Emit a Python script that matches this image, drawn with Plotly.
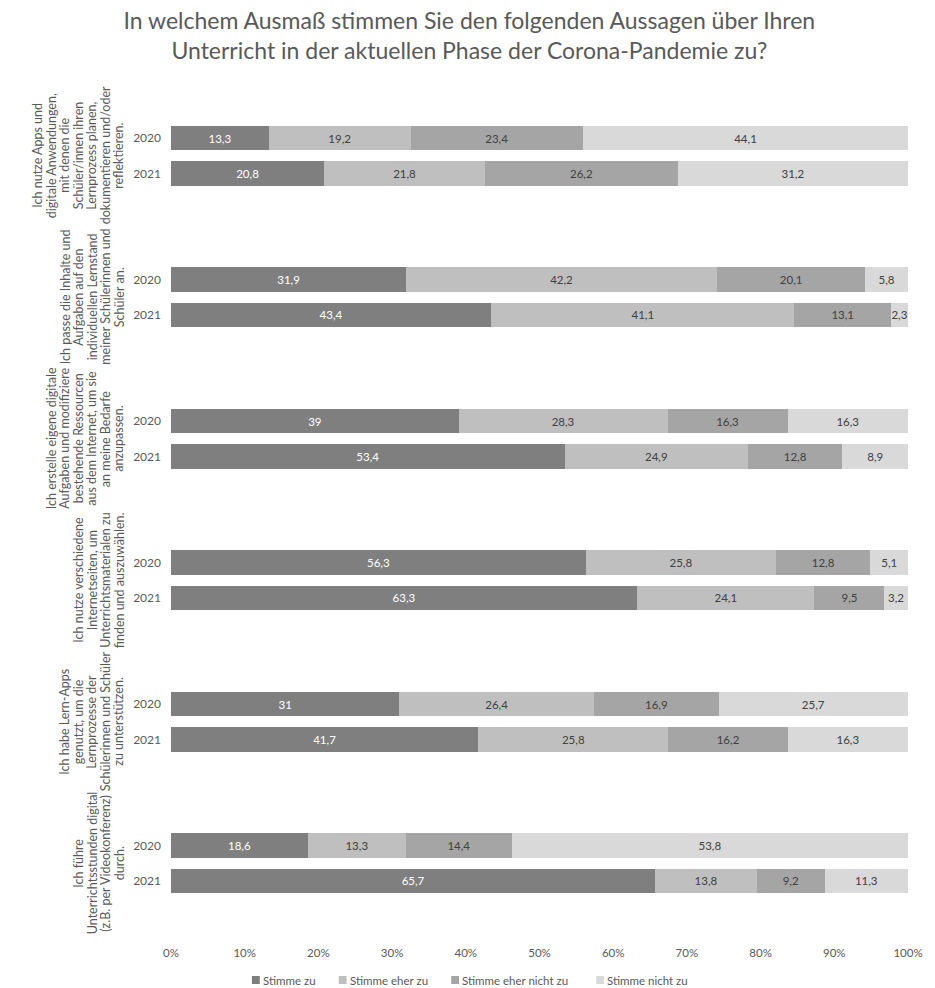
import plotly.graph_objects as go

# Survey statements (top to bottom), one list of text lines per statement
statements = [
    ["Ich nutze Apps und", "digitale Anwendungen,", "mit denen die", "Schüler/innen ihren",
     "Lernprozess planen,", "dokumentieren und/oder", "reflektieren."],
    ["Ich passe die Inhalte und", "Aufgaben auf den", "individuellen Lernstand",
     "meiner Schülerinnen und", "Schüler an."],
    ["Ich erstelle eigene digitale", "Aufgaben und modifiziere", "bestehende Ressourcen",
     "aus dem Internet, um sie", "an meine Bedarfe", "anzupassen."],
    ["Ich nutze verschiedene", "Internetseiten, um", "Unterrichtsmaterialen zu",
     "finden und auszuwählen."],
    ["Ich habe Lern-Apps", "genutzt, um die", "Lernprozesse der",
     "Schülerinnen und Schüler", "zu unterstützen."],
    ["Ich führe", "Unterrichtsstunden digital", "(z.B. per Videokonferenz)", "durch."],
]
years = ["2020", "2021"]

answers = ["Stimme zu", "Stimme eher zu", "Stimme eher nicht zu", "Stimme nicht zu"]

# Shares in percent, one list per answer, ordered statement by statement (2020, 2021)
stimme_zu = [13.3, 20.8, 31.9, 43.4, 39, 53.4, 56.3, 63.3, 31, 41.7, 18.6, 65.7]
stimme_eher_zu = [19.2, 21.8, 42.2, 41.1, 28.3, 24.9, 25.8, 24.1, 26.4, 25.8, 13.3, 13.8]
stimme_eher_nicht_zu = [23.4, 26.2, 20.1, 13.1, 16.3, 12.8, 12.8, 9.5, 16.9, 16.2, 14.4, 9.2]
stimme_nicht_zu = [44.1, 31.2, 5.8, 2.3, 16.3, 8.9, 5.1, 3.2, 25.7, 16.3, 53.8, 11.3]

series = [stimme_zu, stimme_eher_zu, stimme_eher_nicht_zu, stimme_nicht_zu]
colors = ["#7f7f7f", "#bfbfbf", "#a5a5a5", "#d9d9d9"]
text_colors = ["#ffffff", "#404040", "#404040", "#404040"]

x_ticks = list(range(0, 101, 10))

FONT = "Lato, Carlito, 'Open Sans', sans-serif"
GREY = "#595959"

# Figure geometry (pixels)
W, H = 935, 988
M_L, M_R, M_T, M_B = 171, 17, 85, 54
PW, PH = W - M_L - M_R, H - M_T - M_B


def px_to_paper(px, py):
    return (px - M_L) / PW, (H - M_B - py) / PH


# Bar slots: each statement block takes 4 units, the two year bars sit in its middle
positions = []
tick_text = []
for g in range(len(statements)):
    for j, yr in enumerate(years):
        positions.append(4 * g + j)
        tick_text.append(yr)


def fmt(v):
    return str(v).replace(".", ",")


fig = go.Figure()
for name, vals, col, tcol in zip(answers, series, colors, text_colors):
    fig.add_trace(go.Bar(
        name=name,
        orientation="h",
        x=vals,
        y=positions,
        width=0.70,
        marker=dict(color=col, line=dict(width=0)),
        text=[fmt(v) for v in vals],
        textposition="inside",
        insidetextanchor="middle",
        textangle=0,
        textfont=dict(family=FONT, size=11.5, color=tcol),
        constraintext="none",
        showlegend=False,
    ))

# Rotated statement labels left of the year ticks, one annotation per text line
LINE_STEP = 13.5
LAST_LINE_X = 119
for g, lines in enumerate(statements):
    n = len(lines)
    for i, line in enumerate(lines):
        cx = LAST_LINE_X - (n - 1 - i) * LINE_STEP
        fig.add_annotation(
            text=line,
            xref="paper", yref="y",
            x=0, y=4 * g + 0.5,
            xanchor="center", yanchor="middle",
            xshift=cx - M_L,
            textangle=-90,
            showarrow=False,
            font=dict(family=FONT, size=12.5, color=GREY),
        )

# Legend row: small colour squares followed by the answer text
legend_x = [253, 341, 455, 602]
legend_y = 980
for name, col, lx in zip(answers, colors, legend_x):
    x0, y0 = px_to_paper(lx, legend_y + 4)
    x1, y1 = px_to_paper(lx + 8, legend_y - 4)
    fig.add_shape(type="rect", xref="paper", yref="paper",
                  x0=x0, y0=y0, x1=x1, y1=y1,
                  fillcolor=col, line=dict(width=0))
    tx, ty = px_to_paper(lx + 9, legend_y)
    fig.add_annotation(text=name, xref="paper", yref="paper",
                       x=tx, y=ty, xanchor="left", yanchor="middle",
                       showarrow=False,
                       font=dict(family=FONT, size=11.5, color=GREY))

fig.update_layout(
    width=W, height=H,
    barmode="stack",
    barnorm="percent",
    plot_bgcolor="white",
    paper_bgcolor="white",
    margin=dict(l=M_L, r=M_R, t=M_T, b=M_B),
    title=dict(
        text="In welchem Ausmaß stimmen Sie den folgenden Aussagen über Ihren<br>Unterricht in der aktuellen Phase der Corona-Pandemie zu?",
        x=0.502, xanchor="center",
        y=0.9705, yanchor="middle",
        yref="container",
        font=dict(family=FONT, size=23, color=GREY),
    ),
    xaxis=dict(
        range=[0, 100],
        tickvals=x_ticks,
        ticktext=[f"{t}%" for t in x_ticks],
        showgrid=False,
        zeroline=False,
        showline=False,
        ticks="",
        ticklabelstandoff=10,
        tickfont=dict(family=FONT, size=11.5, color=GREY),
        fixedrange=True,
    ),
    yaxis=dict(
        range=[22.5, -1.5],
        tickvals=positions,
        ticktext=tick_text,
        showgrid=False,
        zeroline=False,
        showline=False,
        ticks="",
        ticklabelstandoff=9,
        tickfont=dict(family=FONT, size=12, color=GREY),
        fixedrange=True,
    ),
    showlegend=False,
)

fig.write_html("out.html")
